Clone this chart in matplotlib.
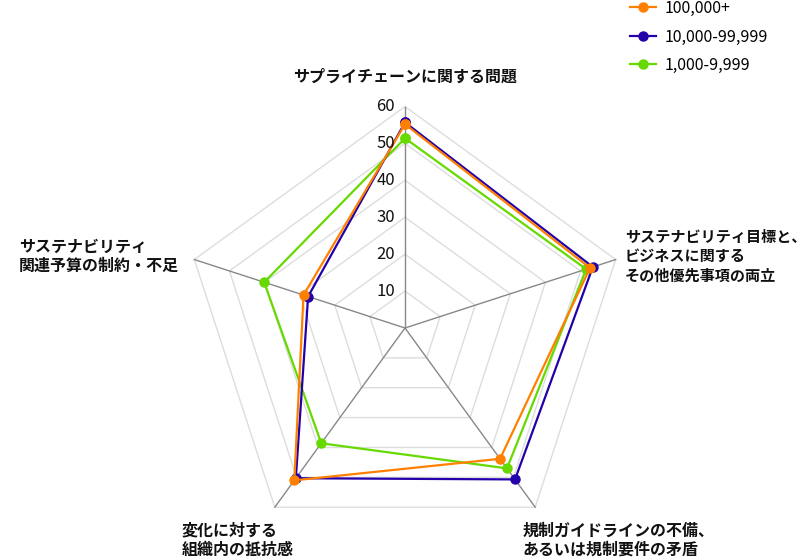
import numpy as np
import matplotlib
matplotlib.use("Agg")
import matplotlib.pyplot as plt
from matplotlib.lines import Line2D

plt.rcParams['font.family'] = ['Noto Sans CJK JP', 'DejaVu Sans']

# axis labels, clockwise from the top
categories = [
    "サプライチェーンに関する問題",
    "サステナビリティ目標と、\nビジネスに関する\nその他優先事項の両立",
    "規制ガイドラインの不備、\nあるいは規制要件の矛盾",
    "変化に対する\n組織内の抵抗感",
    "サステナビリティ\n関連予算の制約・不足",
]
series_names = ["100,000+", "10,000-99,999", "1,000-9,999"]
vals_100k = [55.2, 52.7, 43.8, 51.0, 28.9]
vals_10k = [55.7, 53.5, 50.7, 50.3, 27.6]
vals_1k = [51.4, 51.6, 47.0, 38.6, 40.1]
ticks = [10, 20, 30, 40, 50, 60]

colors = {"100,000+": "#FF8000", "10,000-99,999": "#2400AA", "1,000-9,999": "#66D900"}

W, H = 809, 560
fig = plt.figure(figsize=(W / 100, H / 100), dpi=100)
ax = fig.add_axes([0, 0, 1, 1])
ax.set_xlim(0, W)
ax.set_ylim(H, 0)
ax.axis("off")

cx, cy = 405, 328
rmax = 221.5
vmax = 60.0
n = len(categories)
angles = np.pi / 2 - 2 * np.pi * np.arange(n) / n


def to_xy(values):
    r = np.asarray(values, dtype=float) / vmax * rmax
    return cx + r * np.cos(angles), cy - r * np.sin(angles)


# grid rings
for t in ticks:
    x, y = to_xy([t] * n)
    ax.plot(np.append(x, x[0]), np.append(y, y[0]), color="#dddddd", lw=1, zorder=1)

# spokes
xo, yo = to_xy([vmax] * n)
for i in range(n):
    ax.plot([cx, xo[i]], [cy, yo[i]], color="#888888", lw=1, zorder=2)

# tick labels
for t in ticks:
    ax.text(cx - 10, cy - t / vmax * rmax, str(t), ha="right", va="center",
            fontsize=12, color="#111111", zorder=5)

# series
for name, vals in [("1,000-9,999", vals_1k), ("10,000-99,999", vals_10k), ("100,000+", vals_100k)]:
    x, y = to_xy(vals)
    ax.plot(np.append(x, x[0]), np.append(y, y[0]), color=colors[name], lw=1.6,
            marker="o", markersize=6.5, zorder=4)

# category labels
lab = dict(fontweight="bold", color="#111111", linespacing=1.25)
ax.text(405, 77, categories[0], ha="center", va="center", fontsize=11.5, **lab)
ax.text(625, 256, categories[1], ha="left", va="center", fontsize=10.9, **lab)
ax.text(523, 540, categories[2], ha="left", va="center", fontsize=11.5, **lab)
ax.text(182, 540, categories[3], ha="left", va="center", fontsize=11.5, **lab)
ax.text(19, 256, categories[4], ha="left", va="center", fontsize=11.5, **lab)

handles = [Line2D([], [], color=colors[s], lw=1.6, marker="o", markersize=6.5) for s in series_names]
fig.legend(handles, series_names, loc="upper left", bbox_to_anchor=(630 / W, 1.0),
           frameon=False, fontsize=11.5, handlelength=1.6, handletextpad=0.55,
           labelspacing=0.72, borderpad=0, borderaxespad=0)

fig.savefig("out.png", dpi=100)
